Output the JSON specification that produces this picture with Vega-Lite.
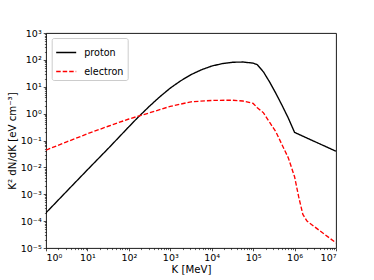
{
  "$schema": "https://vega.github.io/schema/vega-lite/v6.json",
  "autosize": "none",
  "width": 290,
  "height": 215,
  "padding": {"left": 46, "top": 33, "right": 38, "bottom": 32},
  "background": "white",
  "config": {
    "font": "DejaVu Sans",
    "view": {"stroke": "#000", "strokeWidth": 0.9},
    "axis": {"labelFont": "DejaVu Sans", "titleFont": "DejaVu Sans", "labelFontSize": 9.5, "titleFontSize": 10.2, "titleFontWeight": "normal", "labelColor": "#000", "titleColor": "#000", "tickColor": "#000", "domainColor": "#000", "grid": false, "tickWidth": 0.7}
  },
  "data": {"values": [
    {"K": 1, "v": 0.000204, "s": "proton"},
    {"K": 3.162, "v": 0.00129, "s": "proton"},
    {"K": 10, "v": 0.00813, "s": "proton"},
    {"K": 31.62, "v": 0.0501, "s": "proton"},
    {"K": 100, "v": 0.324, "s": "proton"},
    {"K": 158.5, "v": 0.676, "s": "proton"},
    {"K": 316.2, "v": 1.905, "s": "proton"},
    {"K": 562.3, "v": 4.27, "s": "proton"},
    {"K": 1000, "v": 8.91, "s": "proton"},
    {"K": 1778, "v": 16.6, "s": "proton"},
    {"K": 3162, "v": 28.2, "s": "proton"},
    {"K": 5623, "v": 42.7, "s": "proton"},
    {"K": 10000, "v": 58.9, "s": "proton"},
    {"K": 17783, "v": 72.4, "s": "proton"},
    {"K": 31623, "v": 81.3, "s": "proton"},
    {"K": 56234, "v": 83.2, "s": "proton"},
    {"K": 100000, "v": 75.9, "s": "proton"},
    {"K": 125893, "v": 66.1, "s": "proton"},
    {"K": 177828, "v": 35.5, "s": "proton"},
    {"K": 251189, "v": 14.8, "s": "proton"},
    {"K": 354813, "v": 5.62, "s": "proton"},
    {"K": 501187, "v": 2.0, "s": "proton"},
    {"K": 707946, "v": 0.676, "s": "proton"},
    {"K": 1000000, "v": 0.2, "s": "proton"},
    {"K": 10000000, "v": 0.0398, "s": "proton"},
    {"K": 1, "v": 0.0437, "s": "electron"},
    {"K": 3.162, "v": 0.0891, "s": "electron"},
    {"K": 10, "v": 0.178, "s": "electron"},
    {"K": 31.62, "v": 0.339, "s": "electron"},
    {"K": 100, "v": 0.631, "s": "electron"},
    {"K": 316.2, "v": 1.072, "s": "electron"},
    {"K": 1000, "v": 1.862, "s": "electron"},
    {"K": 3162, "v": 2.754, "s": "electron"},
    {"K": 10000, "v": 3.09, "s": "electron"},
    {"K": 31623, "v": 3.16, "s": "electron"},
    {"K": 56234, "v": 2.95, "s": "electron"},
    {"K": 100000, "v": 2.40, "s": "electron"},
    {"K": 125893, "v": 1.66, "s": "electron"},
    {"K": 177828, "v": 1.07, "s": "electron"},
    {"K": 251189, "v": 0.468, "s": "electron"},
    {"K": 354813, "v": 0.209, "s": "electron"},
    {"K": 501187, "v": 0.0676, "s": "electron"},
    {"K": 707946, "v": 0.0224, "s": "electron"},
    {"K": 1000000, "v": 0.00447, "s": "electron"},
    {"K": 1258925, "v": 0.000794, "s": "electron"},
    {"K": 1584893, "v": 0.000178, "s": "electron"},
    {"K": 1995262, "v": 0.0001, "s": "electron"},
    {"K": 10000000, "v": 0.0000155, "s": "electron"}
  ]},
  "layer": [
    {
      "mark": {"type": "line", "strokeWidth": 1.35, "clip": true},
      "encoding": {
        "x": {"field": "K", "type": "quantitative", "scale": {"type": "log", "domain": [1, 10000000], "nice": false},
          "axis": {"title": "K [MeV]", "orient": "bottom", "values": [1, 10, 100, 1000, 10000, 100000, 1000000, 10000000], "tickSize": 2.8, "labelPadding": 2, "titlePadding": 2, "domain": false,
            "labelExpr": "'10' + ['⁰','¹','²','³','⁴','⁵','⁶','⁷'][round(log(datum.value)/LN10)]"}},
        "y": {"field": "v", "type": "quantitative", "scale": {"type": "log", "domain": [0.00001, 1000], "nice": false},
          "axis": {"title": "K² dN/dK [eV cm⁻³]", "orient": "left", "values": [0.00001, 0.0001, 0.001, 0.01, 0.1, 1, 10, 100, 1000], "tickSize": 2.8, "labelPadding": 2, "titlePadding": 3, "domain": false,
            "labelExpr": "'10' + (round(log(datum.value)/LN10) < 0 ? '⁻' : '') + ['⁰','¹','²','³','⁴','⁵','⁶','⁷'][abs(round(log(datum.value)/LN10))]"}},
        "color": {"field": "s", "type": "nominal", "scale": {"domain": ["proton", "electron"], "range": ["#000000", "#ff0000"]},
          "legend": {"title": null, "orient": "none", "legendX": 5.7, "legendY": 5, "symbolType": "stroke", "symbolSize": 400, "symbolStrokeWidth": 1.35, "labelFontSize": 9.6, "labelFont": "DejaVu Sans", "labelColor": "#000", "rowPadding": 3, "padding": 3.5, "fillColor": "white", "strokeColor": "#cccccc", "cornerRadius": 2, "labelOffset": 7}},
        "strokeDash": {"field": "s", "type": "nominal", "scale": {"domain": ["proton", "electron"], "range": [[1, 0], [4.5, 2]]},
          "legend": {"title": null, "orient": "none", "legendX": 5.7, "legendY": 5, "symbolType": "stroke", "symbolSize": 400, "symbolStrokeWidth": 1.35, "labelFontSize": 9.6, "labelFont": "DejaVu Sans", "labelColor": "#000", "rowPadding": 3, "padding": 3.5, "fillColor": "white", "strokeColor": "#cccccc", "cornerRadius": 2, "labelOffset": 7}}
      }
    },
    {
      "mark": {"type": "point", "opacity": 0},
      "encoding": {
        "x": {"field": "K", "type": "quantitative",
          "axis": {"title": null, "orient": "bottom", "labels": false, "domain": false, "tickSize": 1.6, "tickWidth": 0.6,
            "values": [2,3,4,5,6,7,8,9,20,30,40,50,60,70,80,90,200,300,400,500,600,700,800,900,2000,3000,4000,5000,6000,7000,8000,9000,20000,30000,40000,50000,60000,70000,80000,90000,200000,300000,400000,500000,600000,700000,800000,900000,2000000,3000000,4000000,5000000,6000000,7000000,8000000,9000000]}},
        "y": {"field": "v", "type": "quantitative",
          "axis": {"title": null, "orient": "left", "labels": false, "domain": false, "tickSize": 1.6, "tickWidth": 0.6,
            "values": [0.00002,0.00003,0.00004,0.00005,0.00006,0.00007,0.00008,0.00009,0.0002,0.0003,0.0004,0.0005,0.0006,0.0007,0.0008,0.0009,0.002,0.003,0.004,0.005,0.006,0.007,0.008,0.009,0.02,0.03,0.04,0.05,0.06,0.07,0.08,0.09,0.2,0.3,0.4,0.5,0.6,0.7,0.8,0.9,2,3,4,5,6,7,8,9,20,30,40,50,60,70,80,90,200,300,400,500,600,700,800,900]}}
      }
    }
  ],
  "resolve": {"axis": {"x": "independent", "y": "independent"}}
}
